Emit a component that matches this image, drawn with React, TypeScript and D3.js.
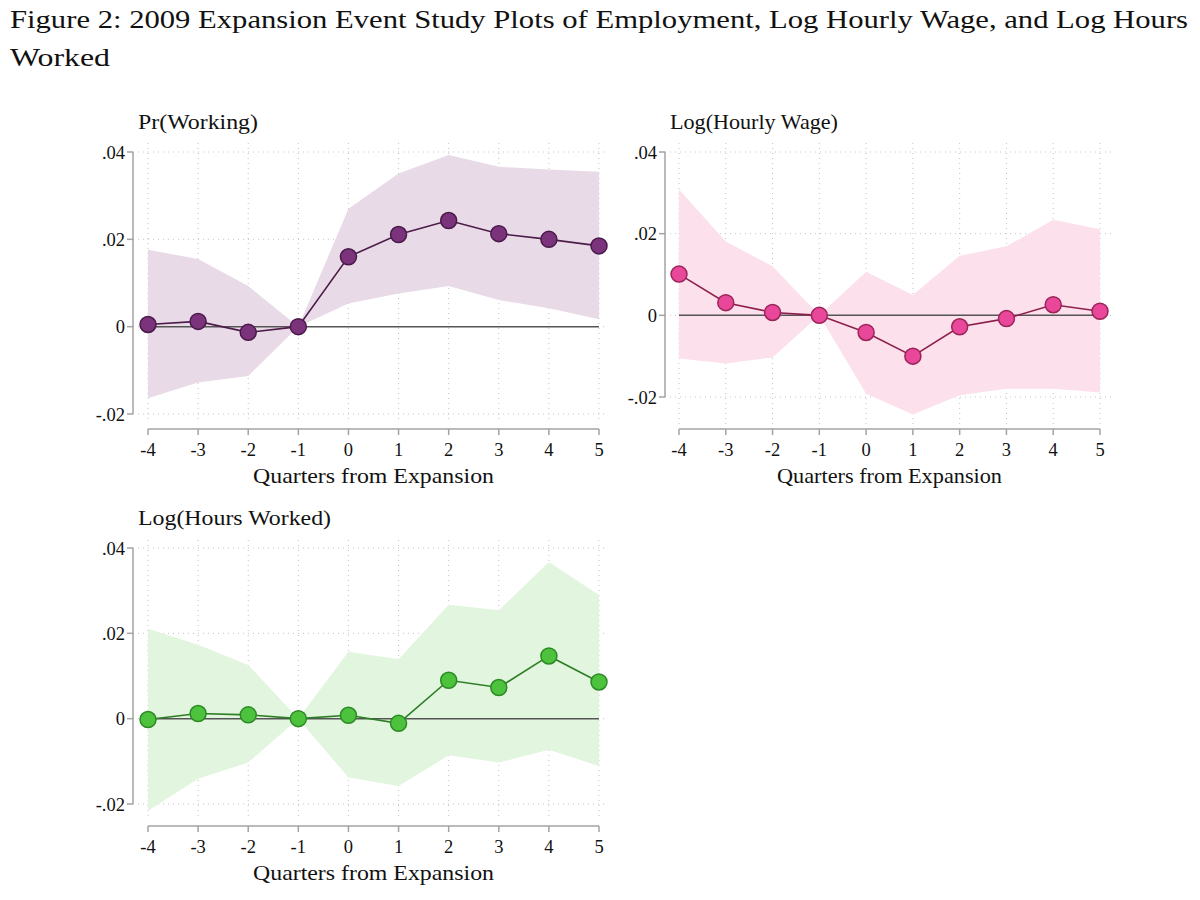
import * as d3 from "d3";

// quarters relative to expansion
const quarters = [-4, -3, -2, -1, 0, 1, 2, 3, 4, 5];
const yTicks = [-0.02, 0, 0.02, 0.04];

// Pr(Working)
const workEst = [0.0005, 0.0012, -0.0013, 0, 0.016, 0.0211, 0.0243, 0.0213, 0.02, 0.0185];
const workHi = [0.0176, 0.0155, 0.0093, 0, 0.027, 0.0351, 0.0393, 0.0366, 0.036, 0.0355];
const workLo = [-0.0164, -0.0128, -0.0113, 0, 0.0053, 0.0076, 0.0093, 0.0061, 0.0042, 0.0017];

// Log(Hourly Wage)
const wageEst = [0.0101, 0.0031, 0.0007, 0, -0.0042, -0.01, -0.0028, -0.0008, 0.0026, 0.001];
const wageHi = [0.0308, 0.0181, 0.012, 0, 0.0107, 0.005, 0.0146, 0.0169, 0.0234, 0.0211];
const wageLo = [-0.0106, -0.0118, -0.0103, 0, -0.0192, -0.0243, -0.0196, -0.018, -0.018, -0.0189];

// Log(Hours Worked)
const hoursEst = [-0.0002, 0.0012, 0.0009, 0, 0.0008, -0.0011, 0.009, 0.0073, 0.0147, 0.0086];
const hoursHi = [0.0211, 0.0173, 0.0126, 0, 0.0157, 0.0139, 0.0267, 0.0254, 0.0367, 0.029];
const hoursLo = [-0.0216, -0.0141, -0.0103, 0, -0.0138, -0.0158, -0.0086, -0.0103, -0.0073, -0.0111];

const FONT = "'Liberation Serif', 'Times New Roman', serif";

interface PanelProps {
  title: string;
  titleW: number;
  est: number[];
  hi: number[];
  lo: number[];
  band: string;
  dot: string;
  dotStroke: string;
  line: string;
  axisX: number; // y axis position
  x0: number;
  x1: number;
  yTop: number; // pixel of .04
  yBot: number; // pixel of -.02
  axisY: number; // x axis position
  gridTop: number;
  gridBot: number;
  gridRight: number;
  xTitleW: number;
}

// stata style: ".04", "-.02", "0"
function fmt(v: number) {
  if (v === 0) return "0";
  const s = Math.abs(v).toFixed(2).replace("0.", ".");
  return v < 0 ? "-" + s : s;
}

function Panel(p: PanelProps) {
  const x = d3.scaleLinear().domain([-4, 5]).range([p.x0, p.x1]);
  const y = d3.scaleLinear().domain([-0.02, 0.04]).range([p.yBot, p.yTop]);
  const idx = quarters.map((_, i) => i);

  const area = d3
    .area<number>()
    .x((i) => x(quarters[i]))
    .y0((i) => y(p.lo[i]))
    .y1((i) => y(p.hi[i]));
  const line = d3
    .line<number>()
    .x((i) => x(quarters[i]))
    .y((i) => y(p.est[i]));

  const gray = "#a3a3a3";
  const mid = (p.x0 + p.x1) / 2;

  return (
    <g>
      <text
        x={p.axisX + 5}
        y={p.yTop - 23}
        fontSize={21}
        textLength={p.titleW}
        lengthAdjust="spacingAndGlyphs"
      >
        {p.title}
      </text>

      {/* grid */}
      {yTicks.map((t) => (
        <line
          key={"h" + t}
          x1={p.axisX}
          x2={p.gridRight}
          y1={y(t)}
          y2={y(t)}
          stroke="#c4c4c4"
          strokeWidth={1}
          strokeDasharray="1,4"
        />
      ))}
      {quarters.map((q) => (
        <line
          key={"v" + q}
          x1={x(q)}
          x2={x(q)}
          y1={p.gridTop}
          y2={p.gridBot}
          stroke="#c4c4c4"
          strokeWidth={1}
          strokeDasharray="1,4"
        />
      ))}

      <path d={area(idx) ?? ""} fill={p.band} />
      <line x1={p.x0} x2={p.x1} y1={y(0)} y2={y(0)} stroke="#555" strokeWidth={1.5} />
      <path d={line(idx) ?? ""} fill="none" stroke={p.line} strokeWidth={1.6} />
      {idx.map((i) => (
        <circle
          key={i}
          cx={x(quarters[i])}
          cy={y(p.est[i])}
          r={8}
          fill={p.dot}
          stroke={p.dotStroke}
          strokeWidth={1.5}
        />
      ))}

      {/* y axis */}
      <line x1={p.axisX} x2={p.axisX} y1={p.yTop} y2={p.yBot} stroke={gray} strokeWidth={1.5} />
      {yTicks.map((t) => (
        <g key={"yt" + t}>
          <line x1={p.axisX - 6} x2={p.axisX} y1={y(t)} y2={y(t)} stroke={gray} strokeWidth={1.5} />
          <text x={p.axisX - 8} y={y(t) + 6.5} fontSize={18.5} textAnchor="end">
            {fmt(t)}
          </text>
        </g>
      ))}

      {/* x axis */}
      <line x1={p.x0} x2={p.x1} y1={p.axisY} y2={p.axisY} stroke={gray} strokeWidth={1.5} />
      {quarters.map((q) => (
        <g key={"xt" + q}>
          <line x1={x(q)} x2={x(q)} y1={p.axisY} y2={p.axisY + 6} stroke={gray} strokeWidth={1.5} />
          <text x={x(q)} y={p.axisY + 27} fontSize={18.5} textAnchor="middle">
            {String(q)}
          </text>
        </g>
      ))}
      <text
        x={mid - p.xTitleW / 2}
        y={p.axisY + 54}
        fontSize={22}
        textLength={p.xTitleW}
        lengthAdjust="spacingAndGlyphs"
      >
        Quarters from Expansion
      </text>
    </g>
  );
}

export default function App() {
  return (
    <svg
      width={1200}
      height={900}
      style={{ position: "absolute", left: 0, top: 0, background: "#fff" }}
      fontFamily={FONT}
      fill="#111"
    >
      <text x={10} y={28} fontSize={25} textLength={1178} lengthAdjust="spacingAndGlyphs">
        Figure 2: 2009 Expansion Event Study Plots of Employment, Log Hourly Wage, and Log Hours
      </text>
      <text x={10} y={66} fontSize={25} textLength={100} lengthAdjust="spacingAndGlyphs">
        Worked
      </text>

      <Panel
        title="Pr(Working)"
        titleW={120}
        est={workEst}
        hi={workHi}
        lo={workLo}
        band="#e8dbe7"
        dot="#7b337c"
        dotStroke="#4a1a4a"
        line="#4c1b4a"
        axisX={133}
        x0={148}
        x1={599}
        yTop={152}
        yBot={414}
        axisY={429}
        gridTop={143}
        gridBot={422}
        gridRight={608}
        xTitleW={241}
      />
      <Panel
        title="Log(Hourly Wage)"
        titleW={168}
        est={wageEst}
        hi={wageHi}
        lo={wageLo}
        band="#fce0ec"
        dot="#e8479a"
        dotStroke="#9b2458"
        line="#8e1f4c"
        axisX={665}
        x0={679}
        x1={1100}
        yTop={152}
        yBot={397}
        axisY={429}
        gridTop={143}
        gridBot={425}
        gridRight={1113}
        xTitleW={225}
      />
      <Panel
        title="Log(Hours Worked)"
        titleW={193}
        est={hoursEst}
        hi={hoursHi}
        lo={hoursLo}
        band="#e2f5de"
        dot="#4dc23c"
        dotStroke="#2c8a26"
        line="#2d7d25"
        axisX={133}
        x0={148}
        x1={599}
        yTop={548}
        yBot={804}
        axisY={826}
        gridTop={540}
        gridBot={818}
        gridRight={608}
        xTitleW={241}
      />
    </svg>
  );
}
